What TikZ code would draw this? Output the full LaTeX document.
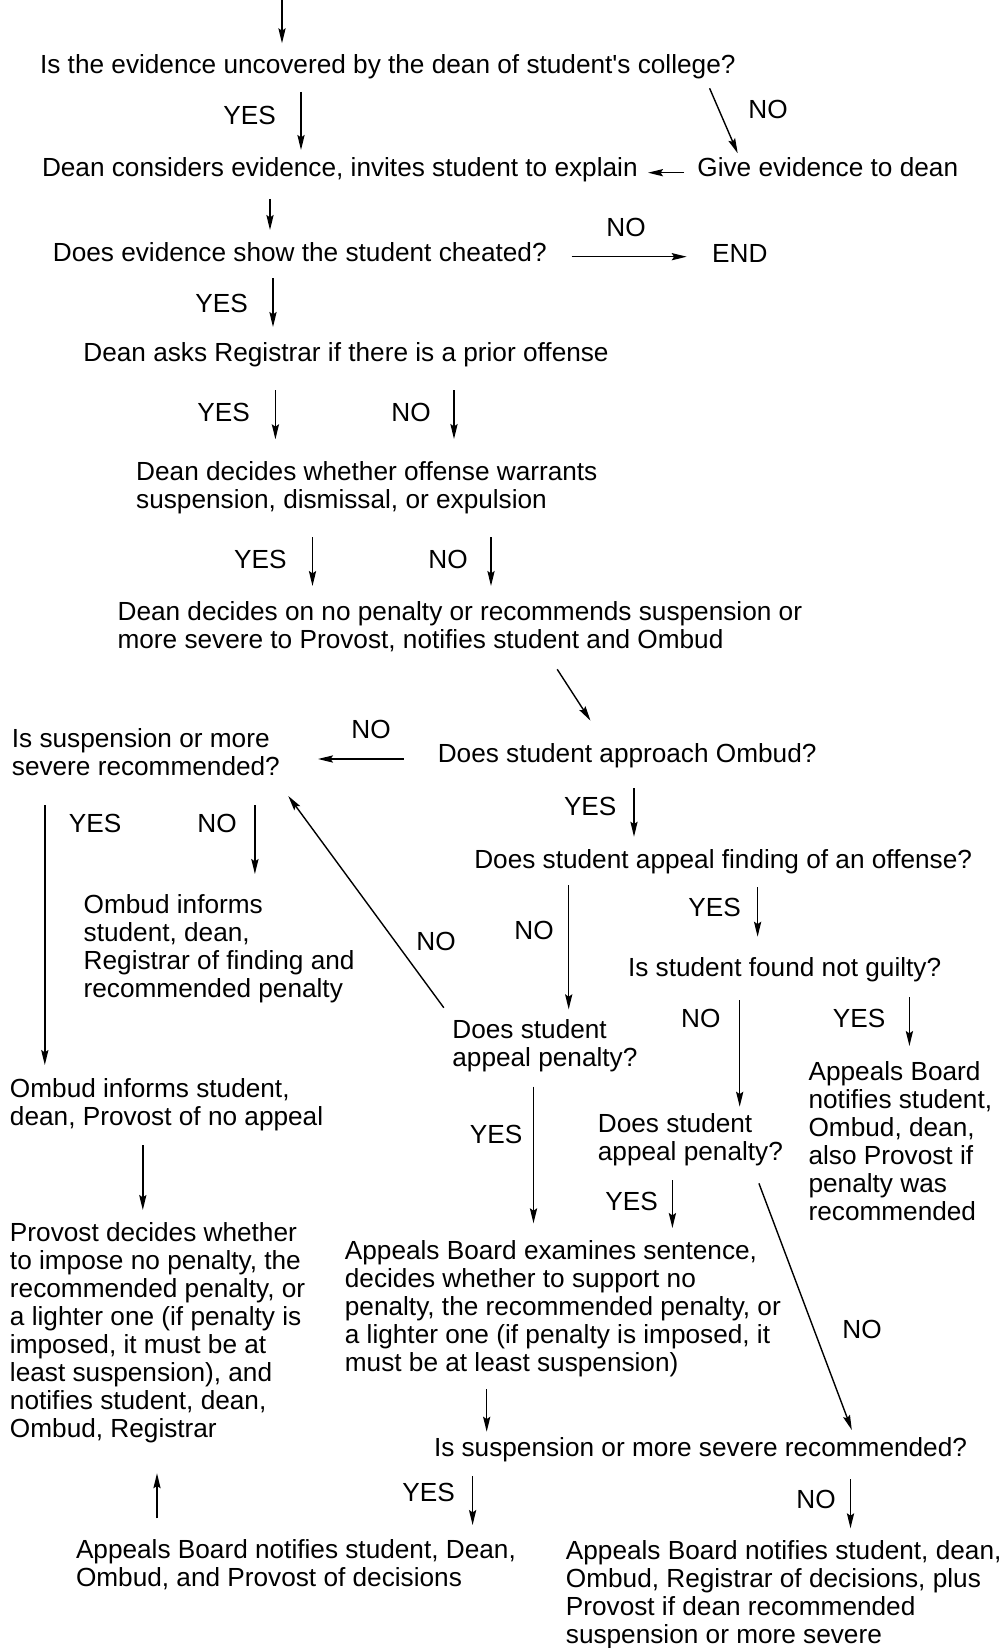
\documentclass[tikz,border=0pt]{standalone}
\usepackage{fontspec}
\setmainfont{Liberation Sans}
\usetikzlibrary{arrows.meta}
\usetikzlibrary{positioning,calc}
\tikzset{
  txt/.style={anchor=base west, inner sep=0pt, align=left,
    font=\fontsize{13.1}{14}\selectfont},
  lbl/.style={txt},
  flow/.style={-{Stealth[length=7.5pt,width=3.6pt,inset=1.2pt]}, line width=0.7pt},
}

\begin{document}
\begin{tikzpicture}[x=0.5pt,y=-0.5pt]
      \useasboundingbox (0,0) rectangle (1001,1648);

      % steps and questions (multi-line nodes sit on their last line)
      \node[txt] (uncov)   at (39.7,74)    {Is the evidence uncovered by the dean of student\textquotesingle s college?};
      \node[txt] (consid)  at (41.6,176.7) {Dean considers evidence, invites student to explain};
      \node[txt] (give)    at (697,176.7)  {Give evidence to dean};
      \node[txt] (cheat)   at (52.5,261.7) {Does evidence show the student cheated?};
      \node[txt] (finish)  at (711.7,263)  {END};
      \node[txt] (prior)   at (83,361.7)   {Dean asks Registrar if there is a prior offense};
      \node[txt] (warrant) at (135.8,508.3) {Dean decides whether offense warrants\\suspension, dismissal, or expulsion};
      \node[txt] (penal)   at (117.2,648.3) {Dean decides on no penalty or recommends suspension or\\more severe to Provost, notifies student and Ombud};
      \node[txt] (sevL)    at (11.5,775)   {Is suspension or more\\severe recommended?};
      \node[txt] (ombud)   at (437.4,762)  {Does student approach Ombud?};
      \node[txt] (appfind) at (473.9,868.3) {Does student appeal finding of an offense?};
      \node[txt] (informR) at (83.3,997.3) {Ombud informs\\student, dean,\\Registrar of finding and\\recommended penalty};
      \node[txt] (guilty)  at (627.6,976.7) {Is student found not guilty?};
      \node[txt] (apppenL) at (452,1066.7) {Does student\\appeal penalty?};
      \node[txt] (abclear) at (808.2,1220) {Appeals Board\\notifies student,\\Ombud, dean,\\also Provost if\\penalty was\\recommended};
      \node[txt] (informP) at (9.6,1125)   {Ombud informs student,\\dean, Provost of no appeal};
      \node[txt] (apppenR) at (597.5,1160.7) {Does student\\appeal penalty?};
      \node[txt] (provost) at (9.6,1437.3) {Provost decides whether\\to impose no penalty, the\\recommended penalty, or\\a lighter one (if penalty is\\imposed, it must be at\\least suspension), and\\notifies student, dean,\\Ombud, Registrar};
      \node[txt] (abexam)  at (344.5,1371.7) {Appeals Board examines sentence,\\decides whether to support no\\penalty, the recommended penalty, or\\a lighter one (if penalty is imposed, it\\must be at least suspension)};
      \node[txt] (sevR)    at (433.6,1456.7) {Is suspension or more severe recommended?};
      \node[txt] (abyes)   at (75.6,1586.7) {Appeals Board notifies student, Dean,\\Ombud, and Provost of decisions};
      \node[txt] (abno)    at (565.5,1643.3) {Appeals Board notifies student, dean,\\Ombud, Registrar of decisions, plus\\Provost if dean recommended\\suspension or more severe};

      % YES / NO labels
      \foreach \t/\x/\y [count=\k] in {YES/223/125, NO/748/119, NO/606/237, YES/195/312,
          YES/197/421.7, NO/391/421.7, YES/233.7/568.3, NO/428/568.3, NO/351/738.3,
          YES/563.6/815, YES/68.5/832.7, NO/197/832.7, NO/416/950, NO/514/939.3,
          YES/688/916.7, NO/680.8/1027.3, YES/832.5/1027.3, YES/469.4/1143.3,
          YES/605/1210, NO/842/1338.3, YES/402/1501.7, NO/796/1508.3}
         \node[lbl] (lab\k) at (\x,\y) {\t};

      % arrows
      \foreach \xa/\ya/\xb/\yb [count=\k] in {282/0/282/43.3, 301/92/301/150,
          709.6/88.3/737.7/153.3, 684/172.7/648/172.7, 270/199/270/230,
          571.7/256.7/686.7/256.7, 273/278/273/327, 275.4/390/275.4/439.3,
          454/390/454/439, 312.5/537/312.5/586, 491/537/491/586,
          557.2/669.3/590.5/720.7, 403.5/759/318/759, 634/788.3/634/836.7,
          44.8/805/44.8/1065, 254.9/805/254.9/874, 443.8/1007.7/288.3/796,
          568.7/885/568.7/1009.3, 757.6/887.3/757.6/936.7, 739.7/1000/739.7/1106.7,
          909.4/997.3/909.4/1046, 142.8/1145/142.8/1210, 533.5/1086.7/533.5/1223.3,
          672.4/1180/672.4/1228, 758.9/1183.3/851.8/1430, 486.7/1389.3/486.7/1431.7,
          157/1518.3/157/1473.3, 472.6/1476/472.6/1525, 850.5/1479.3/850.5/1528.3}
      {
         \coordinate (s\k) at (\xa,\ya);
         \coordinate (e\k) at (\xb,\yb);
         \draw[flow] (s\k) -- (e\k);
      }
   \end{tikzpicture}
\end{document}
